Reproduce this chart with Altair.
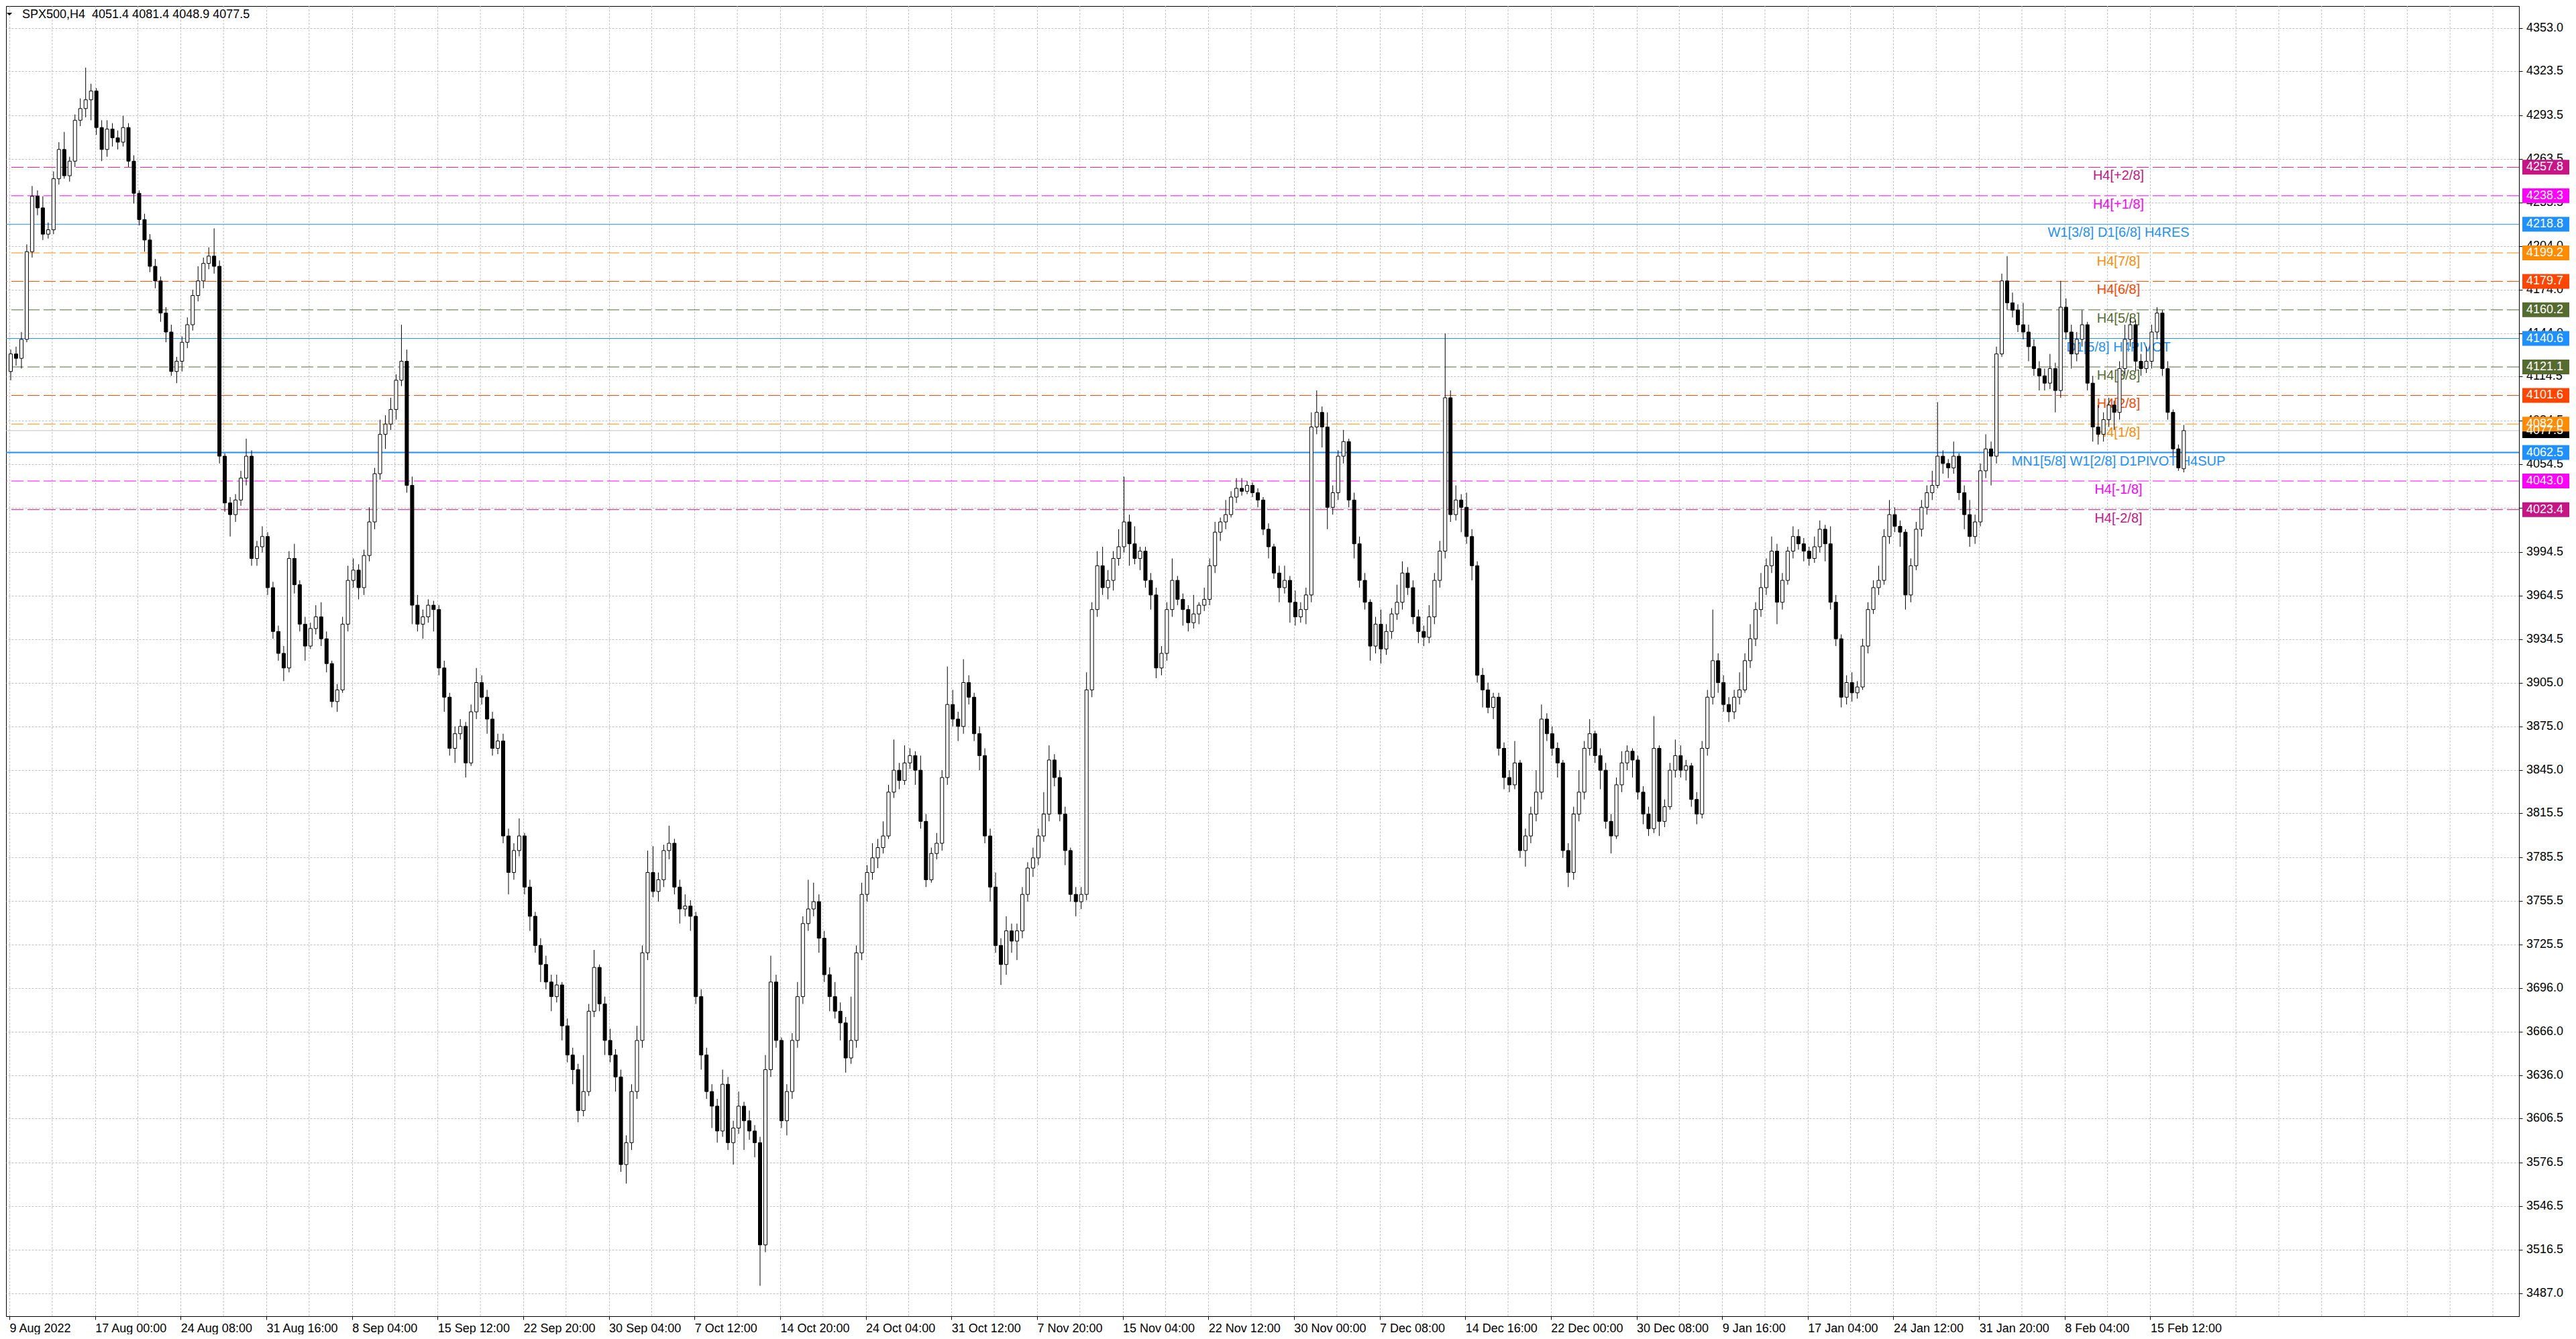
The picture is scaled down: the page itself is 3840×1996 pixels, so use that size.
import json
import altair as alt
import pandas as pd

# ---- OHLC candles (each candle = 2 consecutive H4 bars) ----
OPEN = [
    4118, 4130, 4127, 4140, 4200, 4238, 4230, 4212, 4215, 4250, 4270, 4252, 4262, 4290, 4298, 4304, 4310, 4285, 4270, 4284,
    4278, 4275, 4285, 4262, 4240, 4222, 4208, 4190, 4180, 4158, 4145, 4118, 4125, 4138, 4150, 4170, 4180, 4192, 4197, 4190,
    4060, 4028, 4020, 4030, 4045, 4060, 3990, 3998, 4005, 3970, 3940, 3925, 3915, 3990, 3972, 3945, 3930, 3942, 3950, 3935,
    3918, 3892, 3900, 3945, 3975, 3982, 3970, 3992, 4015, 4048, 4075, 4082, 4092, 4112, 4125, 4040, 3958, 3945, 3950, 3958,
    3955, 3915, 3895, 3860, 3870, 3875, 3850, 3885, 3905, 3895, 3880, 3860, 3865, 3800, 3775, 3790, 3800, 3765, 3745, 3725,
    3712, 3700, 3690, 3698, 3670, 3650, 3640, 3612, 3625, 3680, 3710, 3685, 3660, 3650, 3635, 3575, 3590, 3625, 3660, 3720,
    3775, 3762, 3770, 3790, 3795, 3765, 3750, 3752, 3745, 3690, 3650, 3625, 3615, 3598, 3630, 3590, 3600, 3615, 3605, 3598,
    3590, 3520, 3640, 3700, 3660, 3605, 3625, 3660, 3690, 3740, 3750, 3755, 3730, 3705, 3690, 3680, 3672, 3648, 3660, 3720,
    3760, 3775, 3785, 3792, 3800, 3830, 3845, 3838, 3850, 3855, 3845, 3810, 3770, 3788, 3795, 3840, 3890, 3880, 3875, 3905,
    3895, 3870, 3855, 3800, 3765, 3725, 3712, 3735, 3728, 3735, 3760, 3778, 3785, 3800, 3815, 3852, 3840, 3815, 3790, 3760,
    3755, 3760, 3900, 3955, 3985, 3970, 3975, 3990, 3998, 4015, 4000, 3990, 3995, 3975, 3965, 3915, 3925, 3955, 3975, 3962,
    3955, 3946, 3952, 3958, 3962, 3985, 4008, 4015, 4020, 4032, 4038, 4036, 4040, 4035, 4030, 4010, 3998, 3980, 3970, 3975,
    3960, 3950, 3955, 3965, 4080, 4090, 4080, 4025, 4035, 4060, 4070, 4030, 4000, 3975, 3960, 3930, 3945, 3928, 3940, 3952,
    3960, 3980, 3970, 3950, 3940, 3936, 3950, 3975, 3995, 4100, 4020, 4030, 4025, 4005, 3985, 3910, 3900, 3888, 3895, 3860,
    3840, 3835, 3850, 3790, 3800, 3815, 3830, 3880, 3870, 3860, 3850, 3790, 3775, 3815, 3830, 3860, 3870, 3855, 3845, 3810,
    3800, 3835, 3850, 3858, 3852, 3830, 3815, 3805, 3860, 3810, 3820, 3845, 3855, 3845, 3848, 3825, 3815, 3860, 3895, 3920,
    3905, 3890, 3885, 3895, 3900, 3920, 3935, 3955, 3970, 3985, 3995, 3960, 3975, 3995, 4005, 4000, 3995, 3990, 3998, 4010,
    4000, 3960, 3935, 3895, 3905, 3898, 3902, 3930, 3955, 3970, 3975, 4005, 4020, 4012, 4008, 3965, 3985, 4010, 4025, 4035,
    4040, 4060, 4055, 4052, 4060, 4035, 4020, 4005, 4015, 4050, 4065, 4060, 4130, 4180, 4165, 4160, 4150, 4145, 4135, 4120,
    4115, 4110, 4120, 4105, 4162, 4145, 4130, 4140, 4150, 4110, 4080, 4075, 4085, 4095, 4090, 4120, 4140, 4150, 4125, 4120,
    4125, 4145, 4158, 4120, 4090, 4065, 4051.4,
]
HIGH = [
    4133, 4135, 4145, 4205, 4245, 4242, 4238, 4220, 4255, 4275, 4282, 4265, 4294, 4305, 4326, 4315, 4312, 4290, 4290, 4288,
    4283, 4293, 4288, 4266, 4242, 4226, 4212, 4195, 4183, 4162, 4150, 4128, 4142, 4155, 4174, 4190, 4196, 4203, 4216, 4194,
    4062, 4032, 4034, 4050, 4072, 4064, 4002, 4012, 4008, 3974, 3944, 3930, 3995, 4000, 3975, 3950, 3946, 3958, 3960, 3940,
    3920, 3904, 3950, 3985, 3990, 3986, 3996, 4025, 4052, 4085, 4088, 4100, 4116, 4150, 4133, 4046, 3965, 3955, 3962, 3961,
    3958, 3920, 3898, 3875, 3880, 3878, 3890, 3915, 3910, 3900, 3885, 3870, 3870, 3805, 3795, 3812, 3802, 3770, 3748, 3730,
    3718, 3705, 3705, 3700, 3675, 3655, 3644, 3650, 3685, 3722, 3712, 3690, 3668, 3654, 3640, 3595, 3630, 3670, 3725, 3790,
    3793, 3775, 3794, 3807, 3798, 3770, 3760, 3756, 3748, 3695, 3655, 3630, 3620, 3640, 3635, 3605, 3625, 3618, 3612, 3602,
    3594, 3650, 3718, 3705, 3662, 3630, 3665, 3700, 3745, 3770, 3768, 3760, 3735, 3710, 3700, 3686, 3676, 3690, 3725, 3768,
    3780, 3795, 3798, 3810, 3835, 3866, 3850, 3862, 3860, 3858, 3855, 3815, 3792, 3802, 3845, 3916, 3900, 3885, 3921, 3910,
    3898, 3875, 3860, 3805, 3775, 3730, 3745, 3740, 3740, 3765, 3782, 3792, 3805, 3830, 3862, 3856, 3845, 3820, 3792, 3765,
    3765, 3912, 3960, 3995, 3998, 3982, 3995, 4010, 4046, 4020, 4012, 3998, 3998, 3980, 3970, 3930, 3960, 3990, 3978, 3966,
    3958, 3965, 3960, 3970, 3990, 4015, 4018, 4030, 4036, 4045, 4045, 4043, 4042, 4038, 4032, 4014, 4000, 3985, 3985, 3978,
    3968, 3960, 3970, 4090, 4105, 4094, 4090, 4040, 4064, 4078, 4072, 4035, 4005, 3980, 3962, 3950, 3955, 3945, 3956, 3972,
    3988, 3984, 3975, 3955, 3944, 3958, 3980, 4002, 4144, 4105, 4040, 4034, 4035, 4010, 3988, 3915, 3905, 3898, 3898, 3864,
    3845, 3865, 3852, 3805, 3820, 3845, 3890, 3884, 3875, 3864, 3852, 3795, 3820, 3845, 3865, 3880, 3872, 3860, 3850, 3815,
    3840, 3858, 3862, 3860, 3855, 3834, 3820, 3882, 3862, 3825, 3850, 3866, 3862, 3852, 3850, 3830, 3865, 3900, 3955, 3925,
    3910, 3895, 3900, 3912, 3925, 3945, 3960, 3980, 3990, 4005, 4000, 3980, 3998, 4012, 4010, 4004, 3998, 4005, 4016, 4013,
    4012, 3965, 3938, 3910, 3912, 3906, 3935, 3960, 3975, 3985, 4010, 4030, 4025, 4016, 4010, 3990, 4015, 4030, 4040, 4050,
    4097, 4064, 4058, 4070, 4062, 4040, 4030, 4020, 4055, 4075, 4070, 4135, 4185, 4197, 4172, 4164, 4165, 4150, 4140, 4125,
    4120, 4130, 4124, 4180, 4168, 4150, 4145, 4160, 4152, 4115, 4095, 4090, 4100, 4098, 4125, 4150, 4155, 4153, 4130, 4135,
    4150, 4162, 4160, 4125, 4092, 4068, 4081.4,
]
LOW = [
    4112, 4122, 4120, 4138, 4196, 4225, 4208, 4209, 4212, 4246, 4250, 4248, 4258, 4286, 4292, 4290, 4280, 4262, 4265, 4272,
    4270, 4272, 4258, 4233, 4218, 4200, 4186, 4175, 4152, 4138, 4115, 4110, 4118, 4134, 4146, 4166, 4175, 4188, 4185, 4055,
    4022, 4005, 4015, 4026, 4040, 3985, 3985, 3994, 3965, 3935, 3920, 3906, 3912, 3966, 3940, 3920, 3928, 3938, 3930, 3912,
    3888, 3885, 3898, 3940, 3970, 3962, 3965, 3988, 4010, 4044, 4065, 4078, 4085, 4108, 4035, 3945, 3940, 3935, 3946, 3940,
    3910, 3885, 3855, 3850, 3866, 3840, 3848, 3880, 3890, 3870, 3855, 3856, 3795, 3760, 3770, 3786, 3760, 3735, 3720, 3700,
    3695, 3680, 3686, 3660, 3645, 3630, 3604, 3608, 3622, 3676, 3680, 3650, 3645, 3625, 3570, 3562, 3585, 3620, 3655, 3715,
    3758, 3755, 3765, 3784, 3760, 3740, 3745, 3735, 3685, 3640, 3620, 3600, 3590, 3594, 3585, 3575, 3596, 3585, 3592, 3580,
    3492, 3515, 3635, 3655, 3600, 3595, 3620, 3655, 3685, 3735, 3745, 3720, 3700, 3680, 3675, 3660, 3638, 3644, 3655, 3715,
    3755, 3770, 3778, 3788, 3798, 3826, 3832, 3835, 3846, 3835, 3805, 3765, 3768, 3784, 3790, 3835, 3875, 3865, 3870, 3890,
    3865, 3845, 3795, 3755, 3720, 3698, 3705, 3720, 3715, 3730, 3755, 3772, 3780, 3796, 3810, 3834, 3810, 3780, 3755, 3745,
    3750, 3756, 3895, 3950, 3965, 3962, 3968, 3985, 3994, 3985, 3986, 3982, 3970, 3955, 3908, 3910, 3920, 3950, 3958, 3944,
    3940, 3942, 3945, 3954, 3958, 3980, 4002, 4010, 4018, 4028, 4033, 4034, 4032, 4025, 4006, 3990, 3976, 3960, 3966, 3946,
    3944, 3946, 3945, 3960, 4075, 4066, 4010, 4020, 4030, 4055, 4025, 3990, 3970, 3955, 3920, 3925, 3918, 3924, 3935, 3948,
    3955, 3965, 3945, 3932, 3930, 3932, 3945, 3970, 3990, 4015, 4016, 4008, 4000, 3975, 3905, 3888, 3884, 3880, 3855, 3832,
    3830, 3832, 3785, 3779, 3795, 3810, 3825, 3865, 3855, 3840, 3785, 3765, 3770, 3810, 3825, 3855, 3850, 3832, 3805, 3788,
    3798, 3830, 3845, 3840, 3825, 3808, 3800, 3802, 3800, 3806, 3818, 3840, 3840, 3838, 3820, 3808, 3812, 3855, 3890, 3898,
    3885, 3878, 3880, 3890, 3898, 3915, 3930, 3950, 3965, 3980, 3945, 3955, 3972, 3990, 3996, 3988, 3985, 3987, 3994, 3988,
    3955, 3930, 3888, 3890, 3892, 3894, 3900, 3925, 3952, 3965, 3972, 4000, 4008, 3998, 3955, 3960, 3982, 4005, 4020, 4030,
    4038, 4048, 4045, 4048, 4030, 4010, 3998, 4000, 4012, 4045, 4040, 4055, 4128, 4160, 4155, 4145, 4140, 4125, 4115, 4105,
    4105, 4106, 4090, 4100, 4140, 4120, 4125, 4135, 4105, 4070, 4068, 4070, 4080, 4078, 4085, 4115, 4135, 4118, 4115, 4117,
    4120, 4140, 4115, 4085, 4060, 4050, 4048.9,
]
CLOSE = [
    4130, 4127, 4140, 4200, 4238, 4230, 4212, 4215, 4250, 4270, 4252, 4262, 4290, 4298, 4304, 4310, 4285, 4270, 4284, 4278,
    4275, 4285, 4262, 4240, 4222, 4208, 4190, 4180, 4158, 4145, 4118, 4125, 4138, 4150, 4170, 4180, 4192, 4197, 4190, 4060,
    4028, 4020, 4030, 4045, 4060, 3990, 3998, 4005, 3970, 3940, 3925, 3915, 3990, 3972, 3945, 3930, 3942, 3950, 3935, 3918,
    3892, 3900, 3945, 3975, 3982, 3970, 3992, 4015, 4048, 4075, 4082, 4092, 4112, 4125, 4040, 3958, 3945, 3950, 3958, 3955,
    3915, 3895, 3860, 3870, 3875, 3850, 3885, 3905, 3895, 3880, 3860, 3865, 3800, 3775, 3790, 3800, 3765, 3745, 3725, 3712,
    3700, 3690, 3698, 3670, 3650, 3640, 3612, 3625, 3680, 3710, 3685, 3660, 3650, 3635, 3575, 3590, 3625, 3660, 3720, 3775,
    3762, 3770, 3790, 3795, 3765, 3750, 3752, 3745, 3690, 3650, 3625, 3615, 3598, 3630, 3590, 3600, 3615, 3605, 3598, 3590,
    3520, 3640, 3700, 3660, 3605, 3625, 3660, 3690, 3740, 3750, 3755, 3730, 3705, 3690, 3680, 3672, 3648, 3660, 3720, 3760,
    3775, 3785, 3792, 3800, 3830, 3845, 3838, 3850, 3855, 3845, 3810, 3770, 3788, 3795, 3840, 3890, 3880, 3875, 3905, 3895,
    3870, 3855, 3800, 3765, 3725, 3712, 3735, 3728, 3735, 3760, 3778, 3785, 3800, 3815, 3852, 3840, 3815, 3790, 3760, 3755,
    3760, 3900, 3955, 3985, 3970, 3975, 3990, 3998, 4015, 4000, 3990, 3995, 3975, 3965, 3915, 3925, 3955, 3975, 3962, 3955,
    3946, 3952, 3958, 3962, 3985, 4008, 4015, 4020, 4032, 4038, 4036, 4040, 4035, 4030, 4010, 3998, 3980, 3970, 3975, 3960,
    3950, 3955, 3965, 4080, 4090, 4080, 4025, 4035, 4060, 4070, 4030, 4000, 3975, 3960, 3930, 3945, 3928, 3940, 3952, 3960,
    3980, 3970, 3950, 3940, 3936, 3950, 3975, 3995, 4100, 4020, 4030, 4025, 4005, 3985, 3910, 3900, 3888, 3895, 3860, 3840,
    3835, 3850, 3790, 3800, 3815, 3830, 3880, 3870, 3860, 3850, 3790, 3775, 3815, 3830, 3860, 3870, 3855, 3845, 3810, 3800,
    3835, 3850, 3858, 3852, 3830, 3815, 3805, 3860, 3810, 3820, 3845, 3855, 3845, 3848, 3825, 3815, 3860, 3895, 3920, 3905,
    3890, 3885, 3895, 3900, 3920, 3935, 3955, 3970, 3985, 3995, 3960, 3975, 3995, 4005, 4000, 3995, 3990, 3998, 4010, 4000,
    3960, 3935, 3895, 3905, 3898, 3902, 3930, 3955, 3970, 3975, 4005, 4020, 4012, 4008, 3965, 3985, 4010, 4025, 4035, 4040,
    4060, 4055, 4052, 4060, 4035, 4020, 4005, 4015, 4050, 4065, 4060, 4130, 4180, 4165, 4160, 4150, 4145, 4135, 4120, 4115,
    4110, 4120, 4105, 4162, 4145, 4130, 4140, 4150, 4110, 4080, 4075, 4085, 4095, 4090, 4120, 4140, 4150, 4125, 4120, 4125,
    4145, 4158, 4120, 4090, 4065, 4052, 4077.5,
]

# ---- Horizontal levels ----
LEVEL_PRICE = [4257.8, 4238.3, 4218.8, 4199.2, 4179.7, 4160.2, 4140.6,
               4121.1, 4101.6, 4082.0, 4062.5, 4043.0, 4023.4]
LEVEL_NAME = ["H4[+2/8]", "H4[+1/8]", "W1[3/8] D1[6/8] H4RES", "H4[7/8]",
              "H4[6/8]", "H4[5/8]", "D1[5/8] H4PIVOT", "H4[3/8]", "H4[2/8]",
              "H4[1/8]", "MN1[5/8] W1[2/8] D1PIVOT H4SUP", "H4[-1/8]", "H4[-2/8]"]
LEVEL_COLOR = ["#C71585", "#FF00FF", "#1E90FF", "#FF8C00", "#FF4500",
               "#556B2F", "#1E90FF", "#556B2F", "#FF4500", "#FF8C00",
               "#1E90FF", "#FF00FF", "#C71585"]
LEVEL_STYLE = ["dash", "dash", "solid", "dash", "dash", "dash", "solid",
               "dash", "dash", "dash", "thick", "dash", "dash"]

BID_PRICE = 4077.5
HEADER = "SPX500,H4\u00a0\u00a04051.4 4081.4 4048.9 4077.5"

Y_TICKS = [4353.0, 4323.5, 4293.5, 4263.5, 4233.5, 4204.0, 4174.0, 4144.0,
           4114.5, 4084.5, 4054.5, 4024.5, 3994.5, 3964.5, 3934.5, 3905.0,
           3875.0, 3845.0, 3815.5, 3785.5, 3755.5, 3725.5, 3696.0, 3666.0,
           3636.0, 3606.5, 3576.5, 3546.5, 3516.5, 3487.0]
X_LABELS = ["9 Aug 2022", "17 Aug 00:00", "24 Aug 08:00", "31 Aug 16:00",
            "8 Sep 04:00", "15 Sep 12:00", "22 Sep 20:00", "30 Sep 04:00",
            "7 Oct 12:00", "14 Oct 20:00", "24 Oct 04:00", "31 Oct 12:00",
            "7 Nov 20:00", "15 Nov 04:00", "22 Nov 12:00", "30 Nov 00:00",
            "7 Dec 08:00", "14 Dec 16:00", "22 Dec 00:00", "30 Dec 08:00",
            "9 Jan 16:00", "17 Jan 04:00", "24 Jan 12:00", "31 Jan 20:00",
            "8 Feb 04:00", "15 Feb 12:00"]
# bar indices of the labelled time ticks and of the unlabelled grid lines
X_TICK_BARS = list(range(0, 801, 32))
X_GRID_BARS = list(range(16, 929, 32)) + [832, 864, 896, 928]

# ---- tables ----
n = len(CLOSE)
candles = pd.DataFrame({"bar": [2 * i + 0.5 for i in range(n)],
                        "o": OPEN, "h": HIGH, "l": LOW, "c": CLOSE})
levels = pd.DataFrame({"price": LEVEL_PRICE, "name": LEVEL_NAME,
                       "color": LEVEL_COLOR, "style": LEVEL_STYLE})
bid = pd.DataFrame({"price": [BID_PRICE], "color": ["#C0C0C0"]})
boxes = pd.DataFrame({"price": [BID_PRICE] + LEVEL_PRICE,
                      "color": ["#000000"] + LEVEL_COLOR})
header = pd.DataFrame({"text": [HEADER]})
yticks = pd.DataFrame({"price": Y_TICKS})
xgrid = pd.DataFrame({"bar": X_GRID_BARS})

W, H = 3746, 1953
xscale = alt.Scale(domain=[0, 936.5], nice=False, zero=False)
yscale = alt.Scale(domain=[3471.2, 4368.2], nice=False, zero=False)
FONT = "Liberation Sans"
GRID = "#C0C0C0"

label_expr = json.dumps(X_LABELS) + "[round(datum.value / 32)]"

x_axis = alt.Axis(
    values=X_TICK_BARS, title=None, grid=True, zindex=0,
    gridColor=GRID, gridDash=[3, 2], gridWidth=1,
    domainColor="black", tickSize=5, tickColor="black",
    labelExpr=label_expr, labelAlign="left", labelBaseline="top",
    labelPadding=4, labelFont=FONT, labelFontSize=18,
    labelColor="black", labelOverlap=False, labelFlush=False, labelBound=False,
)
y_axis = alt.Axis(
    orient="right", values=Y_TICKS, title=None, grid=True, zindex=0,
    gridColor=GRID, gridDash=[3, 2], gridWidth=1,
    domainColor="black", tickColor="black", tickSize=5, labels=False,
)


def Y(f):
    return alt.Y(f, scale=yscale, axis=y_axis)


def X(f):
    return alt.X(f, scale=xscale, axis=x_axis)


grid_v = alt.Chart(xgrid).mark_rule(color=GRID, strokeDash=[3, 2], strokeWidth=1).encode(
    x=X("bar:Q"))

lv = alt.Chart(levels)
dash_rules = lv.transform_filter(alt.datum.style == "dash").mark_rule(
    strokeDash=[18, 6], strokeWidth=1).encode(
    y=Y("price:Q"), color=alt.Color("color:N", scale=None))
solid_rules = lv.transform_filter(alt.datum.style == "solid").mark_rule(
    strokeWidth=1).encode(y=Y("price:Q"), color=alt.Color("color:N", scale=None))
thick_rules = lv.transform_filter(alt.datum.style == "thick").mark_rule(
    strokeWidth=2).encode(y=Y("price:Q"), color=alt.Color("color:N", scale=None))
bid_rule = alt.Chart(bid).mark_rule(strokeWidth=1).encode(
    y=Y("price:Q"), color=alt.Color("color:N", scale=None))
level_text = lv.mark_text(font=FONT, fontSize=20, align="center",
                          baseline="alphabetic", dy=19).encode(
    x=alt.value(3149), y=Y("price:Q"), text="name:N",
    color=alt.Color("color:N", scale=None))

cd = alt.Chart(candles)
wicks = cd.mark_rule(color="black", strokeWidth=1).encode(
    x=X("bar:Q"), y=Y("l:Q"), y2="h:Q",
)
bodies = cd.mark_bar(size=5, stroke="black", strokeWidth=1).encode(
    x=X("bar:Q"), y=Y("o:Q"), y2="c:Q",
    fill=alt.condition("datum.c >= datum.o", alt.value("white"), alt.value("black")),
)

ytick_text = alt.Chart(yticks).mark_text(font=FONT, fontSize=18, align="left",
                                         baseline="middle", color="black").encode(
    x=alt.value(3757), y=Y("price:Q"), text=alt.Text("price:Q", format=".1f"))
box_marks = alt.Chart(boxes).mark_tick(orient="horizontal", thickness=22, size=70,
                                       opacity=1).encode(
    x=alt.value(3786), y=Y("price:Q"), color=alt.Color("color:N", scale=None))
box_text = alt.Chart(boxes).mark_text(font=FONT, fontSize=18, align="left",
                                      baseline="middle", color="white").encode(
    x=alt.value(3757), y=Y("price:Q"), text=alt.Text("price:Q", format=".1f"))

head = alt.Chart(header).mark_text(font=FONT, fontSize=18, align="left",
                                   baseline="alphabetic", color="black").encode(
    x=alt.value(24), y=alt.value(18), text="text:N")
tri = alt.Chart(header).mark_point(shape="M-1,-0.5L1,-0.5L0,0.5Z", filled=True,
                                   size=70, color="black", opacity=1).encode(
    x=alt.value(5), y=alt.value(12))

chart = alt.layer(
    grid_v, dash_rules, solid_rules, thick_rules, bid_rule, level_text,
    wicks, bodies, ytick_text, box_marks, box_text, head, tri,
).properties(width=W, height=H, padding=0, background="white").configure_view(
    stroke="black", strokeWidth=1)

chart.save("out.html", embed_options={"renderer": "svg", "actions": False})
